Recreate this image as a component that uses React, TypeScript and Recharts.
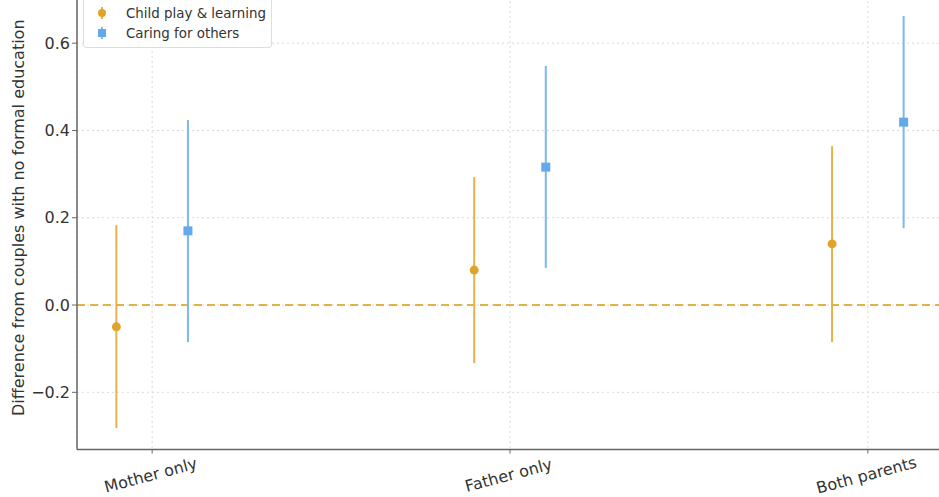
import {
  CartesianGrid,
  ErrorBar,
  Label,
  ReferenceLine,
  Scatter,
  ScatterChart,
  XAxis,
  YAxis,
} from "recharts";

const CATEGORIES = ["Mother only", "Father only", "Both parents"];

const PLAY_MEAN = [-0.05, 0.08, 0.14];
const PLAY_LOW = [-0.282, -0.133, -0.085];
const PLAY_HIGH = [0.183, 0.293, 0.364];

const CARE_MEAN = [0.17, 0.316, 0.419];
const CARE_LOW = [-0.085, 0.085, 0.176];
const CARE_HIGH = [0.424, 0.548, 0.662];

const Y_TICKS = [-0.2, 0, 0.2, 0.4, 0.6];

const ORANGE = "#e1a42a";
const ORANGE_LINE = "#e6b24a";
const BLUE = "#64aaea";
const BLUE_LINE = "#7ab8f0";
const FONT = "'DejaVu Sans', sans-serif";

const build = (mean: number[], lo: number[], hi: number[], shift: number) =>
  mean.map((m, i) => ({ x: i + shift, y: m, err: [m - lo[i], hi[i] - m] }));

const playData = build(PLAY_MEAN, PLAY_LOW, PLAY_HIGH, -0.1);
const careData = build(CARE_MEAN, CARE_LOW, CARE_HIGH, 0.1);

const fmtY = (v: number) => (v < 0 ? "\u2212" + Math.abs(v).toFixed(1) : v.toFixed(1));

function XTick(props: any) {
  const { x, y, payload } = props;
  const ty = y + 25;
  return (
    <text
      x={x}
      y={ty}
      textAnchor="middle"
      fontSize={16}
      fill="#333"
      fontFamily={FONT}
      transform={`rotate(-15, ${x}, ${ty})`}
    >
      {CATEGORIES[payload.value]}
    </text>
  );
}

function YTitle(props: any) {
  const vb = props.viewBox || {};
  const cy = vb.y + vb.height / 2;
  return (
    <text
      x={18}
      y={cy}
      textAnchor="middle"
      dominantBaseline="central"
      fontSize={16}
      fill="#333"
      fontFamily={FONT}
      transform={`rotate(-90, 18, ${cy})`}
    >
      Difference from couples with no formal education
    </text>
  );
}

const Circle = (p: any) => <circle cx={p.cx} cy={p.cy} r={4.5} fill={ORANGE} />;
const Square = (p: any) => <rect x={p.cx - 4.5} y={p.cy - 4.5} width={9} height={9} fill={BLUE} />;

function LegendBox() {
  const item = (color: string, line: string, square: boolean, text: string) => (
    <div style={{ display: "flex", alignItems: "center", height: 20, whiteSpace: "nowrap" }}>
      <svg width={30} height={18} style={{ flexShrink: 0 }}>
        <line x1={16} x2={16} y1={3} y2={15} stroke={line} strokeWidth={2} />
        {square ? (
          <rect x={12} y={5} width={8} height={8} fill={color} />
        ) : (
          <circle cx={16} cy={9} r={4} fill={color} />
        )}
      </svg>
      <span style={{ marginLeft: 10 }}>{text}</span>
    </div>
  );
  return (
    <div
      style={{
        position: "absolute",
        left: 83,
        top: -3,
        boxSizing: "border-box",
        width: 189,
        border: "1px solid #ddd",
        borderRadius: 3,
        background: "rgba(255,255,255,0.85)",
        padding: "5px 0 4px 2px",
        fontFamily: FONT,
        fontSize: 13.4,
        color: "#333",
      }}
    >
      {item(ORANGE, ORANGE_LINE, false, "Child play & learning")}
      {item(BLUE, BLUE_LINE, true, "Caring for others")}
    </div>
  );
}

export default function App() {
  return (
    <div
      style={{
        position: "absolute",
        left: 0,
        top: 0,
        width: 939,
        height: 497,
        overflow: "hidden",
        background: "#fff",
      }}
    >
      <div style={{ marginTop: -14 }}>
        <ScatterChart width={950} height={511} margin={{ top: 0, right: 7, bottom: 7.5, left: 17 }}>
          <CartesianGrid stroke="#d9d9d9" strokeDasharray="2 3" />
          <XAxis
            type="number"
            dataKey="x"
            domain={[-0.21, 2.21]}
            ticks={[0, 1, 2]}
            allowDataOverflow
            height={40}
            tick={<XTick />}
            tickSize={4}
            axisLine={{ stroke: "#666", strokeWidth: 1.5 }}
            tickLine={{ stroke: "#666" }}
          />
          <YAxis
            type="number"
            dataKey="y"
            domain={[-0.331, 0.731]}
            ticks={Y_TICKS}
            allowDataOverflow
            width={60}
            tickFormatter={fmtY}
            tickSize={5}
            tick={{ fontSize: 16, fill: "#333", fontFamily: FONT }}
            axisLine={{ stroke: "#666", strokeWidth: 1.5 }}
            tickLine={{ stroke: "#666" }}
          >
            <Label content={<YTitle />} />
          </YAxis>
          <ReferenceLine y={0} stroke={ORANGE} strokeOpacity={0.85} strokeWidth={2} strokeDasharray="8 5" />
          <Scatter name="Child play & learning" data={playData} shape={Circle} isAnimationActive={false}>
            <ErrorBar dataKey="err" direction="y" width={0} stroke={ORANGE_LINE} strokeWidth={2} />
          </Scatter>
          <Scatter name="Caring for others" data={careData} shape={Square} isAnimationActive={false}>
            <ErrorBar dataKey="err" direction="y" width={0} stroke={BLUE_LINE} strokeWidth={2} />
          </Scatter>
        </ScatterChart>
      </div>
      <LegendBox />
    </div>
  );
}
